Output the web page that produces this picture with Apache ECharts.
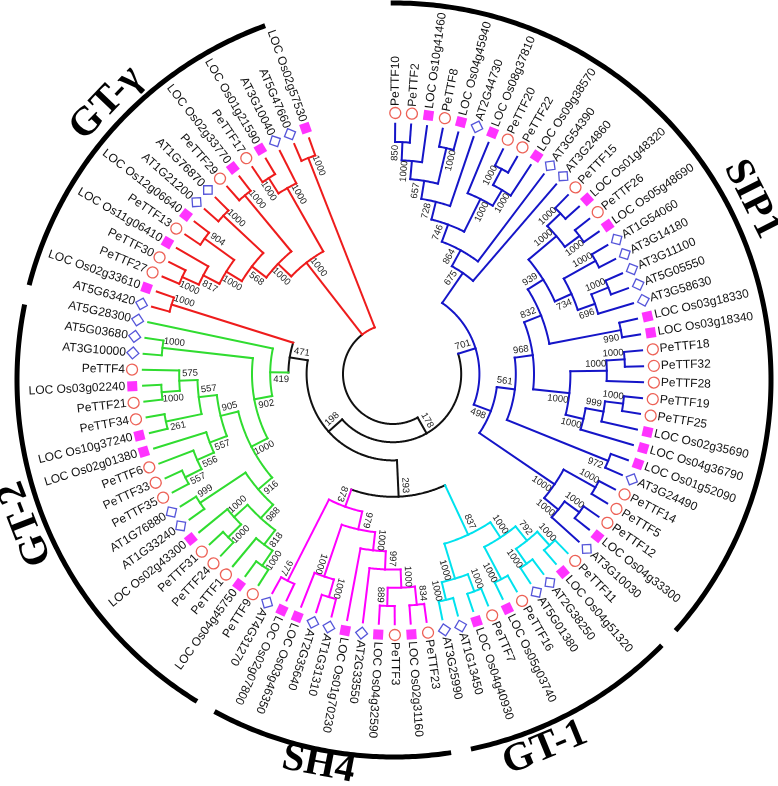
<!DOCTYPE html>
<html><head><meta charset="utf-8"><title>Phylogenetic tree</title>
<script src="https://cdn.jsdelivr.net/npm/echarts@6/dist/echarts.min.js"></script>
<style>html,body{margin:0;padding:0;background:#fff}#c{width:778px;height:786px}</style>
</head><body><div id="c"></div>
<script>
// ================= DATA =================
// Topology (Newick) with bootstrap values, split into named clade parts
const SIP1_TOP = "(((((((PeTTF10,PeTTF2)850,LOC Os10g41460)1000,(PeTTF8,LOC Os04g45940)1000)657,AT2G44730)728,(LOC Os08g37810,((PeTTF20,PeTTF22)1000,LOC Os09g38570)1000)1000)746,AT3G54390)864,AT3G24860)675";
const SIP1_939 = "(((PeTTF15,LOC Os01g48320)1000,(PeTTF26,LOC Os05g48690)1000)1000,((AT1G54060,AT3G14180)1000,((AT3G11100,AT5G05550)1000,AT3G58630)696)734)939";
const SIP1_G = "(((PeTTF18,PeTTF32)1000,PeTTF28)1000,(((PeTTF19,PeTTF25)1000,LOC Os02g35690)999,LOC Os04g36790)1000)1000";
const SIP1_K = "((PeTTF14,PeTTF5)1000,((PeTTF12,LOC Os04g33300)1000,AT3G10030)1000)1000";
const SIP1_498 = "((((" + SIP1_939 + ",(LOC Os03g18330,LOC Os03g18340)990)832," + SIP1_G + ")968,(LOC Os01g52090,AT3G24490)972)561," + SIP1_K + ")498";
const SIP1 = "(" + SIP1_TOP + "," + SIP1_498 + ")701";
const GT1 = "((((PeTTF11,LOC Os04g51320)1000,(AT2G38250,AT5G01380)1000)792,(PeTTF16,LOC Os05g03740)1000)1000,((PeTTF7,LOC Os04g40930)1000,(AT1G13450,AT3G25990)1000)1000)837";
const SH4 = "((((((PeTTF23,LOC Os02g31160)834,(PeTTF3,LOC Os04g32590)889)1000,AT2G33550)997,LOC Os01g70230)1000,((AT1G31310,AT2G35640)1000,LOC Os03g46350)1000)979,(LOC Os02g07800,AT4G31270)977)873";
const GT2_916 = "((((PeTTF9,LOC Os04g45750)1000,PeTTF1)818,((PeTTF24,PeTTF31)1000,LOC Os02g43300)1000)988,(AT1G33240,AT1G76880)999)916";
const GT2_905 = "((((PeTTF35,PeTTF33)557,PeTTF6)556,LOC Os02g01380)557,((LOC Os10g37240,PeTTF34)261,((PeTTF21,LOC Os03g02240)1000,PeTTF4)575)557)905";
const GT2 = "(((" + GT2_916 + "," + GT2_905 + ")1000,(AT3G10000,AT5G03680)1000)902,AT5G28300)419";
const GTG_PAIR = "(AT5G63420,LOC Os02g33610)1000";
const GTG_A = "((((((PeTTF27,PeTTF30)1000,LOC Os11g06410)817,(PeTTF13,LOC Os12g06640)904)1000,(AT1G21200,AT1G76870)1000)568,(PeTTF29,LOC Os02g33770)1000)1000,((PeTTF17,LOC Os01g21590)1000,AT3G10040)1000)1000";
const GTG_B = "(AT5G47660,LOC Os02g57530)1000";
const TREE = "((" + SIP1 + ",((" + GT1 + "," + SH4 + ")293,(" + GT2 + "," + GTG_PAIR + ")471)198)178," + GTG_A + "," + GTG_B + ");";

const cladeNames     = ['SIP1', 'GT-1', 'SH4', 'GT-2', 'GT-\u03b3'];
const cladeFirstLeaf = ['PeTTF10', 'PeTTF11', 'PeTTF23', 'PeTTF9', 'AT5G63420'];
const cladeLastLeaf  = ['AT3G10030', 'AT3G25990', 'AT4G31270', 'AT5G28300', 'LOC Os02g57530'];
const speciesPrefix  = ['PeTTF', 'LOC', 'AT'];

// ================= STYLE / LAYOUT =================
const cladeColors   = ['#1515c8', '#00e2ee', '#ff00ff', '#30dc30', '#ee1c1c'];
const BLACK = '#111111';
const speciesSymbol = ['circle', 'rect', 'diamond'];
const speciesColor  = ['#e8392c', '#ff00ff', '#2a2ad0'];
const speciesSize   = [11, 10, 12];
const C_TREE = [393, 374], C_ANN = [394, 380];
const FIRST_DEG = 0.5, STEP_DEG = 3.655;
const LEAF_R = 250.2, LEVEL = 18.2, MARK_R = 261, TEXT_R = 268, ARC_R = 377;
const BS_IN = 11, BS_OFF = 7;
const cladeLabelDeg = [63.2, 157.7, 191.1, 248.7, 313.9];
const cladeLabelR   = [401, 398, 392, 395, 399];
const cladeLabelFlip = [false, true, true, false, false];

// ================= TREE LAYOUT =================
function parseNewick(s){
  let i = 0;
  function readLabel(){ let t=''; while(i<s.length && '(),;'.indexOf(s[i])<0){ t+=s[i]; i++; } return t.trim(); }
  function node(){
    const n = {name:'', support:'', children:[]};
    if (s[i] === '('){
      i++;
      n.children.push(node());
      while (s[i] === ','){ i++; n.children.push(node()); }
      i++;
      n.support = readLabel();
    } else n.name = readLabel();
    return n;
  }
  return node();
}
const root = parseNewick(TREE);
const leaves = [], nodes = [];
(function walk(n, parent, ci){
  n.parent = parent; n.childIdx = ci; nodes.push(n);
  if (!n.children.length){ n.leaf = leaves.length; leaves.push(n); n.h = 0; n.a = n.leaf; }
  else {
    n.children.forEach((c,k)=>walk(c,n,k));
    n.h = 1 + Math.max(...n.children.map(c=>c.h));
    n.a = (n.children[0].a + n.children[n.children.length-1].a)/2;
  }
})(root, null, 0);
leaves.forEach(l=>l.clade=-1);
cladeNames.forEach((nm,k)=>{
  const f = leaves.findIndex(l=>l.name===cladeFirstLeaf[k]);
  const e = leaves.findIndex(l=>l.name===cladeLastLeaf[k]);
  for (let j=f;j<=e;j++) leaves[j].clade = k;
});
(function setClade(n){
  if (!n.children.length) return n.clade;
  const cs = n.children.map(setClade);
  n.clade = cs.every(c=>c===cs[0]) ? cs[0] : -1;
  return n.clade;
})(root);
nodes.forEach(n=>{ n.r = n.children.length ? LEAF_R - LEVEL*n.h : LEAF_R; });
const colOf = c => c>=0 ? c : 5;
const palette = cladeColors.concat([BLACK]);

const segs = [];
nodes.forEach(n=>{
  if (n.parent) segs.push([n.parent.r, n.a, n.r, n.a, 0, colOf(n.clade)]);
  for (let k=0;k<n.children.length-1;k++){
    const c1=n.children[k], c2=n.children[k+1];
    let cl = n.clade;
    if (cl<0 && c1.clade>=0 && c1.clade===c2.clade) cl = c1.clade;
    segs.push([n.r, c1.a, n.r, c2.a, 1, colOf(cl)]);
  }
});
const bsData = [], bsText = [];
nodes.forEach(n=>{
  if (n.parent && n.children.length && n.support){
    bsData.push([n.r - BS_IN, n.a, n.childIdx===0 ? -1 : 1]);
    bsText.push(n.support);
  }
});
const spIdx = name => speciesPrefix.findIndex(p=>name.indexOf(p)===0);
const degOf = a => FIRST_DEG + a*STEP_DEG;
const markerData = leaves.map(l=>{
  const s = spIdx(l.name), th = degOf(l.a);
  return {value:[MARK_R, l.a], symbol: speciesSymbol[s], symbolSize: speciesSize[s],
    symbolRotate: 90 - th,
    itemStyle: s===1 ? {color: speciesColor[s]} : {color:'#fff', borderColor: speciesColor[s], borderWidth: 1.3}};
});
const cladeArcs = cladeNames.map((nm,k)=>{
  const f = leaves.findIndex(l=>l.name===cladeFirstLeaf[k]);
  const e = leaves.findIndex(l=>l.name===cladeLastLeaf[k]);
  return [ARC_R, degOf(f)-1.0, degOf(e)-0.4];
});
const isLeft = th => th > 210.6 && th < 350;
const rad = d => d*Math.PI/180;

// ================= CHART =================
const chart = echarts.init(document.getElementById('c'), null, {renderer:'canvas'});
chart.setOption({
  animation: false,
  backgroundColor: '#fff',
  polar: [{center: C_TREE, radius: 400}, {center: C_ANN, radius: 400}],
  angleAxis: [
    {polarIndex:0, type:'value', min: -FIRST_DEG/STEP_DEG, max: (360-FIRST_DEG)/STEP_DEG, startAngle: 90, clockwise: true, show: false},
    {polarIndex:1, type:'value', min: 0, max: 360, startAngle: 90, clockwise: true, show: false}
  ],
  radiusAxis: [
    {polarIndex:0, type:'value', min:0, max:400, show:false},
    {polarIndex:1, type:'value', min:0, max:400, show:false}
  ],
  series: [
    { type:'custom', coordinateSystem:'polar', polarIndex:0, clip:false, silent:true, data: segs,
      renderItem(params, api){
        const r1=api.value(0), a1=api.value(1), r2=api.value(2), a2=api.value(3), kind=api.value(4), ci=api.value(5);
        let pts = [];
        if (kind===0) pts = [api.coord([r1,a1]), api.coord([r2,a1])];
        else { const n = Math.max(2, Math.ceil(Math.abs(a2-a1)*STEP_DEG*2)); for (let k=0;k<=n;k++) pts.push(api.coord([r1, a1+(a2-a1)*k/n])); }
        return {type:'polyline', shape:{points:pts}, style:{stroke: palette[ci], lineWidth: 2, fill: 'none', lineCap:'square', lineJoin:'miter'}};
      }
    },
    { type:'scatter', coordinateSystem:'polar', polarIndex:0, silent:true, data: markerData, z: 3 },
    { type:'custom', coordinateSystem:'polar', polarIndex:0, clip:false, silent:true, data: leaves.map(l=>[TEXT_R, l.a]),
      renderItem(params, api){
        const a = api.value(1), th = degOf(a), p = api.coord([api.value(0), a]);
        const left = isLeft(th);
        return {type:'text', x:p[0], y:p[1], rotation: -rad(left ? th-270 : th-90),
          style:{text: leaves[params.dataIndex].name, font:'12px "Liberation Sans", Arial, sans-serif', fill:'#111', align: left?'right':'left', verticalAlign:'middle'}};
      }
    },
    { type:'custom', coordinateSystem:'polar', polarIndex:0, clip:false, silent:true, data: bsData,
      renderItem(params, api){
        const r=api.value(0), a=api.value(1), side=api.value(2), th=degOf(a), t=rad(th);
        const p = api.coord([r, a]);
        const left = isLeft(th);
        return {type:'text', x: p[0]+side*BS_OFF*Math.cos(t), y: p[1]+side*BS_OFF*Math.sin(t), rotation: -rad(left ? th-270 : th-90),
          style:{text: bsText[params.dataIndex], font:'9.5px "Liberation Sans", Arial, sans-serif', fill:'#222', align:'center', verticalAlign:'middle'}};
      }
    },
    { type:'custom', coordinateSystem:'polar', polarIndex:1, clip:false, silent:true, data: cladeArcs,
      renderItem(params, api){
        const r=api.value(0), a1=api.value(1), a2=api.value(2);
        const pts=[]; const n=Math.ceil(Math.abs(a2-a1)*2);
        for (let k=0;k<=n;k++) pts.push(api.coord([r, a1+(a2-a1)*k/n]));
        return {type:'polyline', shape:{points:pts}, style:{stroke:'#000', lineWidth:5, fill:'none'}};
      }
    },
    { type:'custom', coordinateSystem:'polar', polarIndex:1, clip:false, silent:true,
      data: cladeNames.map((n,k)=>[cladeLabelR[k], cladeLabelDeg[k]]),
      renderItem(params, api){
        const k = params.dataIndex, th = api.value(1), p = api.coord([api.value(0), th]);
        const rot = cladeLabelFlip[k] ? th-180 : th;
        return {type:'text', x:p[0], y:p[1], rotation: -rad(rot),
          style:{text: cladeNames[k], font:'bold 40px "Liberation Serif", "Times New Roman", serif', fill:'#000', align:'center', verticalAlign:'middle'}};
      }
    }
  ]
});
</script></body></html>
